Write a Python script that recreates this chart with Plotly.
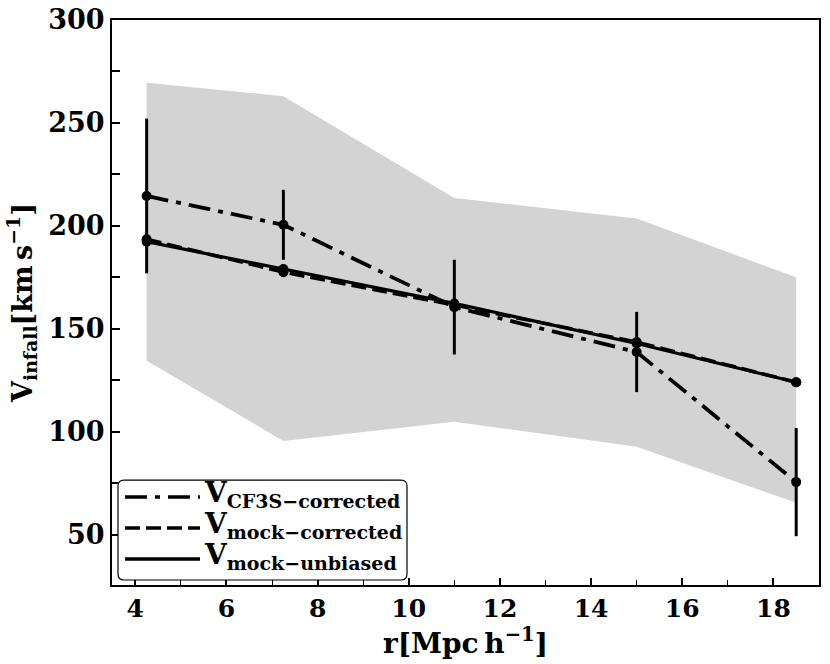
import plotly.graph_objects as go

# ---- data ----
r = [4.25, 7.25, 11.0, 15.0, 18.5]
v_cf3s = [214.5, 200.5, 160.5, 138.7, 75.5]
v_cf3s_err = [37.6, 17.0, 23.0, 19.5, 26.3]
v_mock_corrected = [193.5, 177.5, 161.5, 143.5, 124.0]
v_mock_unbiased = [192.3, 179.0, 162.3, 142.8, 124.0]
band_upper = [269.5, 263.0, 213.5, 203.5, 175.0]
band_lower = [134.5, 95.5, 104.8, 92.7, 65.4]

labels = ["CF3S\u2212corrected", "mock\u2212corrected", "mock\u2212unbiased"]

FONT = "DejaVu Serif"
BLACK = "#000000"
DASHDOT = "22px,8px,5px,8px"
DASHED = "15px,6px"

fig = go.Figure()

# shaded band
fig.add_trace(go.Scatter(
    x=r + r[::-1], y=band_upper + band_lower[::-1],
    fill="toself", fillcolor="#d3d3d3", line=dict(width=0),
    mode="lines", hoverinfo="skip", showlegend=False))

fig.add_trace(go.Scatter(
    x=r, y=v_mock_unbiased, mode="lines+markers",
    line=dict(color=BLACK, width=3.2),
    marker=dict(color=BLACK, size=10), showlegend=False))

fig.add_trace(go.Scatter(
    x=r, y=v_mock_corrected, mode="lines+markers",
    line=dict(color=BLACK, width=3.5, dash=DASHED),
    marker=dict(color=BLACK, size=10), showlegend=False))

fig.add_trace(go.Scatter(
    x=r, y=v_cf3s, mode="lines+markers",
    line=dict(color=BLACK, width=3.8, dash=DASHDOT),
    marker=dict(color=BLACK, size=10),
    error_y=dict(type="data", array=v_cf3s_err, visible=True,
                 color=BLACK, thickness=3, width=0),
    showlegend=False))

# ---- plot geometry (pixels; page body margin removed) ----
W, H = 830, 664
L, R, T, B = 112, 11, 19.5, 79
pw, ph = W - L - R, H - T - B


def px(x):
    return (x - L) / pw


def py(y):
    return (H - B - y) / ph


# custom legend box with rounded corners (screen pixel positions)
bx0, bx1, by0, by1, rad = 118, 407, 480, 580, 6
rx, ry = rad / pw, rad / ph
X0, X1, Y0, Y1 = px(bx0), px(bx1), py(by1), py(by0)
path = (f"M {X0+rx},{Y0} L {X1-rx},{Y0} Q {X1},{Y0} {X1},{Y0+ry} "
        f"L {X1},{Y1-ry} Q {X1},{Y1} {X1-rx},{Y1} L {X0+rx},{Y1} "
        f"Q {X0},{Y1} {X0},{Y1-ry} L {X0},{Y0+ry} Q {X0},{Y0} {X0+rx},{Y0} Z")
fig.add_shape(type="path", path=path, xref="paper", yref="paper",
              fillcolor="white", line=dict(color=BLACK, width=1.2), layer="above")

dashes = [DASHDOT, DASHED, "solid"]
rows = [497, 528, 559]
for lab, d, yy in zip(labels, dashes, rows):
    fig.add_shape(type="line", xref="paper", yref="paper",
                  x0=px(125), x1=px(200), y0=py(yy), y1=py(yy),
                  line=dict(color=BLACK, width=3.5, dash=d), layer="above")
    fig.add_annotation(xref="paper", yref="paper", x=px(202), y=py(yy),
                       xanchor="left", yanchor="middle", showarrow=False,
                       text=f"<b>V<sub><span style='font-size:19px'>{lab}</span></sub></b>",
                       font=dict(family=FONT, size=28, color=BLACK), yshift=3)

fig.update_layout(
    width=W, height=H,
    margin=dict(l=L, r=R, t=T, b=B, autoexpand=False),
    paper_bgcolor="white", plot_bgcolor="white",
    showlegend=False,
    font=dict(family=FONT, color=BLACK),
    xaxis=dict(
        range=[3.49, 19.0], tick0=0, dtick=2, automargin=False,
        ticks="inside", ticklen=7, tickwidth=1.5, tickcolor=BLACK,
        minor=dict(dtick=1, ticks="inside", ticklen=5, tickwidth=1.2, tickcolor=BLACK),
        showline=True, linewidth=2, linecolor=BLACK, mirror=True,
        showgrid=False, zeroline=False, ticklabeloverflow="allow",
        tickfont=dict(family=FONT, size=25, color=BLACK, weight="bold"),
        title=dict(text="<b>r[Mpc\u2009h<sup>\u22121</sup>]</b>",
                   font=dict(family=FONT, size=28, color=BLACK), standoff=2),
    ),
    yaxis=dict(
        range=[25.5, 300], tick0=0, dtick=50, automargin=False,
        ticks="inside", ticklen=8, tickwidth=1.5, tickcolor=BLACK,
        minor=dict(dtick=25, ticks="inside", ticklen=8, tickwidth=1.5, tickcolor=BLACK),
        showline=True, linewidth=2, linecolor=BLACK, mirror=True,
        showgrid=False, zeroline=False, ticklabeloverflow="allow",
        tickfont=dict(family=FONT, size=27, color=BLACK, weight="bold"),
        title=dict(text="<b>V<sub>infall</sub>[km\u2009s<sup>\u22121</sup>]</b>",
                   font=dict(family=FONT, size=27, color=BLACK), standoff=8),
    ),
)

fig.write_html("out.html", config={"displayModeBar": False},
               post_script="document.body.style.margin='0';document.body.style.overflow='hidden';")
